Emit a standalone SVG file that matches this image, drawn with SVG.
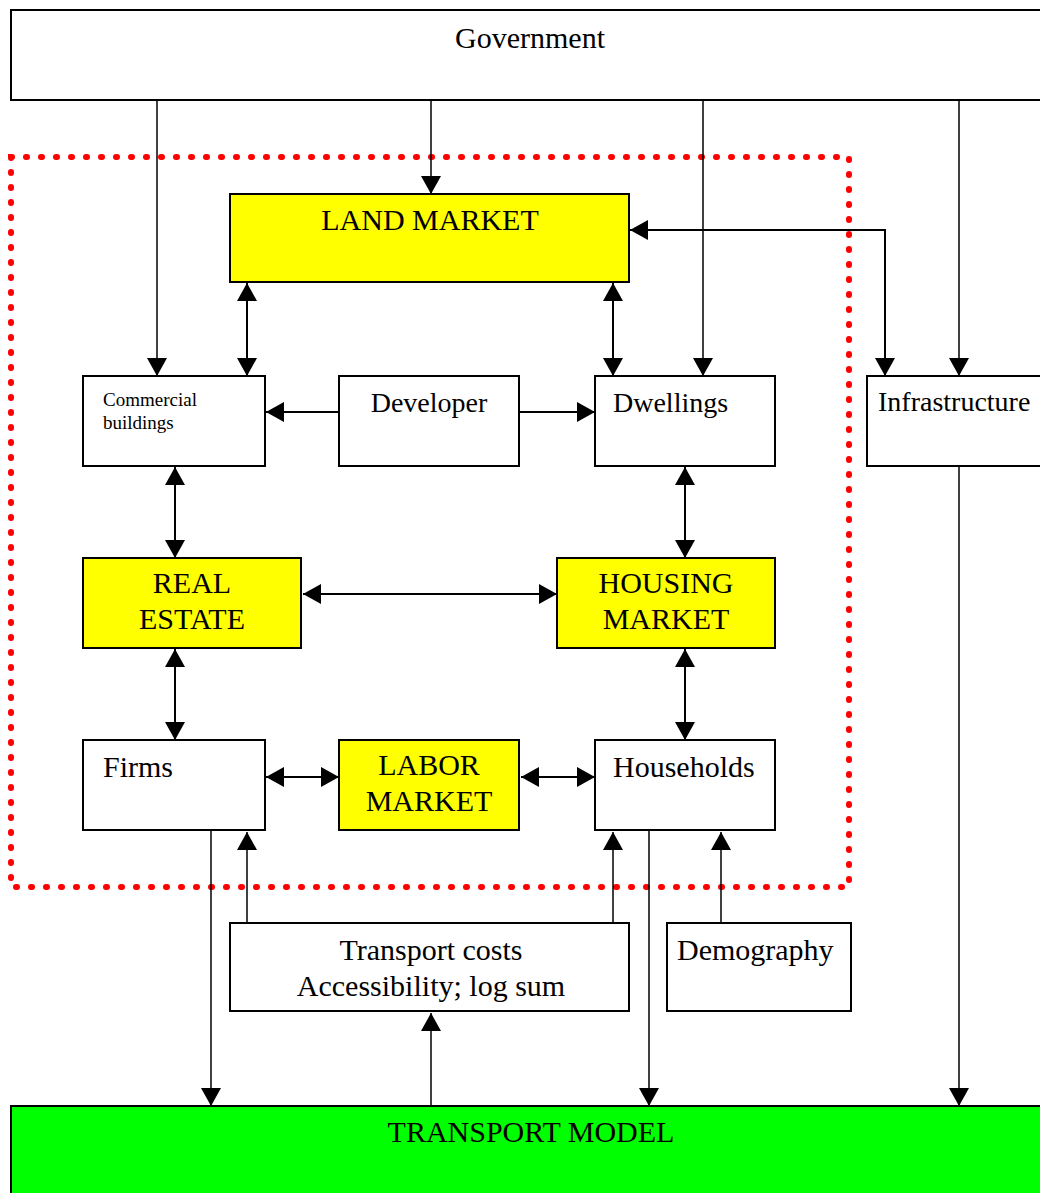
<svg xmlns="http://www.w3.org/2000/svg" width="1040" height="1193" viewBox="0 0 1040 1193">
<style>
.box{fill:#ffffff;stroke:#000;stroke-width:2}
.yel{fill:#ffff00;stroke:#000;stroke-width:2}
.grn{fill:#00ff00;stroke:#000;stroke-width:2}
.t{font-family:"Liberation Serif","Times New Roman",serif;font-size:30px;fill:#000}
.m{font-size:28px}
.s{font-family:"Liberation Serif","Times New Roman",serif;font-size:19px;fill:#000}
.c{text-anchor:middle}
.thin{stroke:#000;stroke-width:1.5;fill:none}
.thick{stroke:#000;stroke-width:2;fill:none}
.dots{fill:none;stroke:#ff0000;stroke-width:6;stroke-dasharray:1 14;stroke-linecap:round}
</style>
<defs>
<marker id="ah" markerUnits="userSpaceOnUse" markerWidth="18" markerHeight="20" refX="18" refY="10" orient="auto-start-reverse" viewBox="0 0 18 20">
<path d="M0,0 L18,10 L0,20 z" fill="#000"/>
</marker>
</defs>
<rect width="1040" height="1193" fill="#ffffff"/>

<g id="boundary">
<rect class="dots" x="11" y="157" width="838" height="730"/>
</g>

<g id="government"><rect class="box" x="11" y="10" width="1045" height="90"/><text class="t c" x="530" y="48">Government</text></g>
<g id="land-market"><rect class="yel" x="230" y="194" width="399" height="88"/><text class="t c" x="430" y="230">LAND MARKET</text></g>
<g id="commercial-buildings"><rect class="box" x="83" y="376" width="182" height="90"/><text class="s" x="103" y="406">Commercial</text><text class="s" x="103" y="429">buildings</text></g>
<g id="developer"><rect class="box" x="339" y="376" width="180" height="90"/><text class="t m c" x="429" y="412">Developer</text></g>
<g id="dwellings"><rect class="box" x="595" y="376" width="180" height="90"/><text class="t m" x="613" y="412">Dwellings</text></g>
<g id="infrastructure"><rect class="box" x="867" y="376" width="190" height="90"/><text class="t m" x="878" y="411">Infrastructure</text></g>
<g id="real-estate"><rect class="yel" x="83" y="558" width="218" height="90"/><text class="t c" x="192" y="593">REAL</text><text class="t c" x="192" y="629">ESTATE</text></g>
<g id="housing-market"><rect class="yel" x="557" y="558" width="218" height="90"/><text class="t c" x="666" y="593">HOUSING</text><text class="t c" x="666" y="629">MARKET</text></g>
<g id="firms"><rect class="box" x="83" y="740" width="182" height="90"/><text class="t" x="103" y="777">Firms</text></g>
<g id="labor-market"><rect class="yel" x="339" y="740" width="180" height="90"/><text class="t c" x="429" y="775">LABOR</text><text class="t c" x="429" y="811">MARKET</text></g>
<g id="households"><rect class="box" x="595" y="740" width="180" height="90"/><text class="t" x="613" y="777">Households</text></g>
<g id="transport-costs"><rect class="box" x="230" y="923" width="399" height="88"/><text class="t c" x="431" y="960">Transport costs</text><text class="t c" x="431" y="996">Accessibility; log sum</text></g>
<g id="demography"><rect class="box" x="667" y="923" width="184" height="88"/><text class="t" x="677" y="960">Demography</text></g>
<g id="transport-model"><rect class="grn" x="11" y="1106" width="1045" height="100"/><text class="t c" x="531" y="1142">TRANSPORT MODEL</text></g>

<g id="connectors">
<line class="thin" x1="157" y1="100" x2="157" y2="376" marker-end="url(#ah)"/>
<line class="thin" x1="431" y1="100" x2="431" y2="194" marker-end="url(#ah)"/>
<line class="thin" x1="703" y1="100" x2="703" y2="376" marker-end="url(#ah)"/>
<line class="thin" x1="959" y1="100" x2="959" y2="376" marker-end="url(#ah)"/>
<polyline class="thick" points="630,230 885,230 885,376" marker-start="url(#ah)" marker-end="url(#ah)"/>
<line class="thick" x1="247" y1="283" x2="247" y2="376" marker-start="url(#ah)" marker-end="url(#ah)"/>
<line class="thick" x1="613" y1="283" x2="613" y2="376" marker-start="url(#ah)" marker-end="url(#ah)"/>
<line class="thick" x1="339" y1="412" x2="266" y2="412" marker-end="url(#ah)"/>
<line class="thick" x1="519" y1="412" x2="595" y2="412" marker-end="url(#ah)"/>
<line class="thick" x1="175" y1="467" x2="175" y2="558" marker-start="url(#ah)" marker-end="url(#ah)"/>
<line class="thick" x1="685" y1="467" x2="685" y2="558" marker-start="url(#ah)" marker-end="url(#ah)"/>
<line class="thick" x1="303" y1="594" x2="557" y2="594" marker-start="url(#ah)" marker-end="url(#ah)"/>
<line class="thick" x1="175" y1="649" x2="175" y2="740" marker-start="url(#ah)" marker-end="url(#ah)"/>
<line class="thick" x1="685" y1="649" x2="685" y2="740" marker-start="url(#ah)" marker-end="url(#ah)"/>
<line class="thick" x1="266" y1="777" x2="339" y2="777" marker-start="url(#ah)" marker-end="url(#ah)"/>
<line class="thick" x1="521" y1="777" x2="595" y2="777" marker-start="url(#ah)" marker-end="url(#ah)"/>
<line class="thin" x1="211" y1="830" x2="211" y2="1106" marker-end="url(#ah)"/>
<line class="thin" x1="247" y1="923" x2="247" y2="832" marker-end="url(#ah)"/>
<line class="thin" x1="613" y1="923" x2="613" y2="832" marker-end="url(#ah)"/>
<line class="thin" x1="649" y1="830" x2="649" y2="1106" marker-end="url(#ah)"/>
<line class="thin" x1="721" y1="923" x2="721" y2="832" marker-end="url(#ah)"/>
<line class="thin" x1="431" y1="1106" x2="431" y2="1013" marker-end="url(#ah)"/>
<line class="thin" x1="959" y1="466" x2="959" y2="1106" marker-end="url(#ah)"/>
</g>
</svg>
